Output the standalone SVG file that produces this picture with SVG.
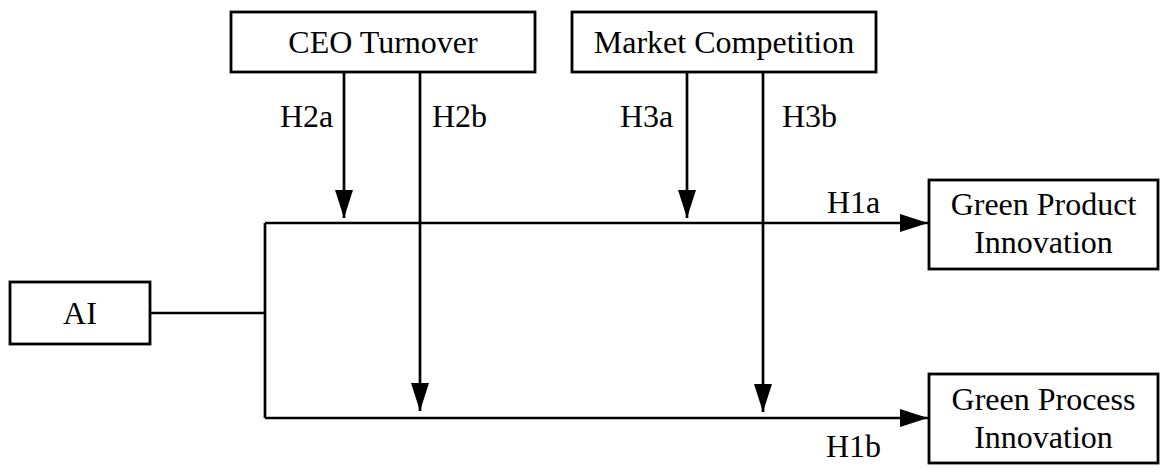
<svg xmlns="http://www.w3.org/2000/svg" width="1168" height="473" viewBox="0 0 1168 473">
<style>
.box{fill:#fff;stroke:#000;stroke-width:2.8}
.t{font-family:"Liberation Serif","Times New Roman",serif;font-size:32px;fill:#000}
.m{text-anchor:middle}
.ln{fill:none;stroke:#000;stroke-width:2.7}
</style>
<defs>
<marker id="ah" viewBox="0 0 28 18" refX="28" refY="9" markerWidth="28" markerHeight="18" markerUnits="userSpaceOnUse" orient="auto">
<path d="M0,0 L28,9 L0,18 Z" fill="#000"/>
</marker>
</defs>
<rect width="1168" height="473" fill="#fff"/>
<g id="connectors">
<path class="ln" d="M150,313 H265"/>
<path class="ln" d="M265,223 V418"/>
<path class="ln" d="M265,223 H928" marker-end="url(#ah)"/>
<path class="ln" d="M265,418 H928" marker-end="url(#ah)"/>
<path class="ln" d="M344,72 V218" marker-end="url(#ah)"/>
<path class="ln" d="M420,72 V411" marker-end="url(#ah)"/>
<path class="ln" d="M687,72 V218" marker-end="url(#ah)"/>
<path class="ln" d="M763,72 V412" marker-end="url(#ah)"/>
<text class="t" x="280" y="127">H2a</text>
<text class="t" x="432" y="127">H2b</text>
<text class="t" x="620" y="127">H3a</text>
<text class="t" x="782" y="127">H3b</text>
<text class="t" x="827" y="213">H1a</text>
<text class="t" x="826" y="457">H1b</text>
</g>
<g id="ai">
<rect class="box" x="10" y="282" width="140" height="62"/>
<text class="t m" x="80" y="324">AI</text>
</g>
<g id="ceo">
<rect class="box" x="231" y="12" width="304" height="60"/>
<text class="t m" x="383" y="53">CEO Turnover</text>
</g>
<g id="market">
<rect class="box" x="572" y="12" width="304" height="60"/>
<text class="t m" x="724" y="53">Market Competition</text>
</g>
<g id="gproduct">
<rect class="box" x="929" y="180" width="229" height="89"/>
<text class="t m" x="1043.5" y="215">Green Product</text>
<text class="t m" x="1043.5" y="253">Innovation</text>
</g>
<g id="gprocess">
<rect class="box" x="929" y="374" width="229" height="89"/>
<text class="t m" x="1043.5" y="410">Green Process</text>
<text class="t m" x="1043.5" y="448">Innovation</text>
</g>
</svg>
